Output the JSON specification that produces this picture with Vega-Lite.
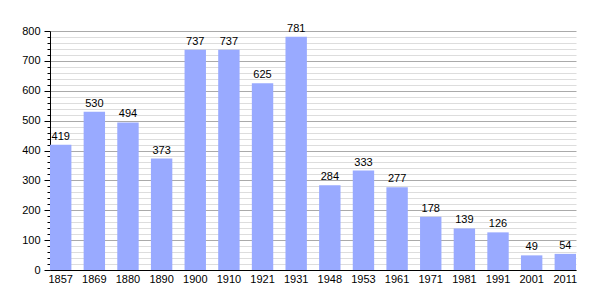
{
  "$schema": "https://vega.github.io/schema/vega-lite/v6.json",
  "width": 526,
  "height": 239,
  "autosize": {"type": "none"},
  "padding": {"left": 50, "top": 31, "right": 29, "bottom": 30},
  "background": "white",
  "config": {"view": {"stroke": null}, "font": "Liberation Sans"},
  "data": {"values": [
    {"year": "1857", "pop": 419},
    {"year": "1869", "pop": 530},
    {"year": "1880", "pop": 494},
    {"year": "1890", "pop": 373},
    {"year": "1900", "pop": 737},
    {"year": "1910", "pop": 737},
    {"year": "1921", "pop": 625},
    {"year": "1931", "pop": 781},
    {"year": "1948", "pop": 284},
    {"year": "1953", "pop": 333},
    {"year": "1961", "pop": 277},
    {"year": "1971", "pop": 178},
    {"year": "1981", "pop": 139},
    {"year": "1991", "pop": 126},
    {"year": "2001", "pop": 49},
    {"year": "2011", "pop": 54}
  ]},
  "encoding": {
    "x": {"field": "year", "type": "ordinal", "sort": null,
      "scale": {"paddingInner": 0.364, "paddingOuter": 0},
      "axis": {"title": null, "labelAngle": 0, "ticks": false, "domainColor": "black", "labelFontSize": 11, "labelColor": "black", "labelPadding": 3}},
    "y": {"field": "pop", "type": "quantitative",
      "scale": {"domain": [0, 800], "nice": false},
      "axis": {"title": null,
        "values": [0,20,40,60,80,100,120,140,160,180,200,220,240,260,280,300,320,340,360,380,400,420,440,460,480,500,520,540,560,580,600,620,640,660,680,700,720,740,760,780,800],
        "labelExpr": "datum.value % 100 === 0 ? datum.label : ''",
        "format": "d",
        "grid": true,
        "gridColor": {"condition": {"test": "datum.value % 100 === 0", "value": "#aaaaaa"}, "value": "#dddddd"},
        "tickSize": {"condition": {"test": "datum.value % 100 === 0", "value": 6}, "value": 3},
        "tickColor": "black",
        "domainColor": "black",
        "labelFontSize": 11,
        "labelColor": "black",
        "labelPadding": 4,
        "labelOverlap": false}}
  },
  "layer": [
    {"mark": {"type": "bar", "color": "#99aaff"}},
    {"mark": {"type": "text", "baseline": "bottom", "dy": -3, "fontSize": 11, "color": "black"},
     "encoding": {"text": {"field": "pop", "type": "quantitative"}}}
  ]
}
